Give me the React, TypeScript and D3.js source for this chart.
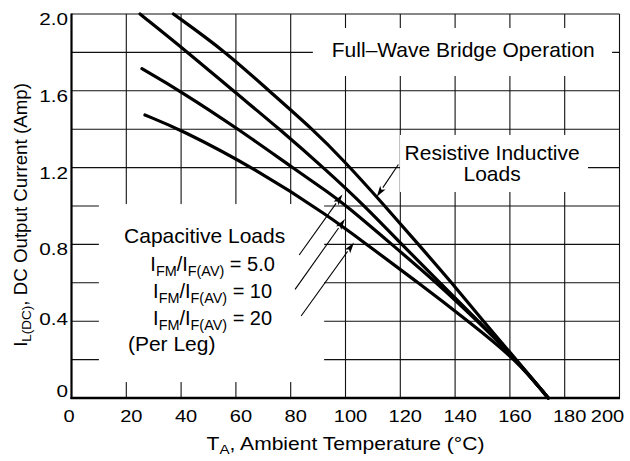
import { useEffect, useRef } from "react";
import * as d3 from "d3";

// chart values: [ambient temp °C, output current A]
const RESISTIVE_INDUCTIVE: [number, number][] = [
  [37.2, 2.0], [56.6, 1.8], [72, 1.6], [88, 1.4], [99.2, 1.24], [114.4, 1.0],
  [126.6, 0.8], [138.8, 0.6], [150.3, 0.4], [162.3, 0.2], [174, 0],
];
const CAP_5: [number, number][] = [
  [25, 2.0], [42.5, 1.8], [59, 1.6], [76, 1.4], [93.5, 1.18], [107, 1.0],
  [120.5, 0.8], [134.5, 0.6], [148.5, 0.4], [162.3, 0.2], [174, 0],
];
const CAP_10: [number, number][] = [
  [25.7, 1.715], [39.6, 1.6], [61, 1.4], [81.6, 1.19], [94.3, 1.066], [100.4, 1.0],
  [116.9, 0.8], [133.3, 0.6], [148.2, 0.4], [162.3, 0.2], [174, 0],
];
const CAP_20: [number, number][] = [
  [26.8, 1.474], [39.6, 1.4], [67.6, 1.19], [94.3, 0.944], [107.7, 0.8],
  [126.6, 0.6], [144.8, 0.4], [162.3, 0.2], [174, 0],
];
const SERIES = [RESISTIVE_INDUCTIVE, CAP_5, CAP_10, CAP_20];

const X_TICKS = [0, 20, 40, 60, 80, 100, 120, 140, 160, 180, 200];
const Y_TICKS = [0, 0.4, 0.8, 1.2, 1.6, 2.0];
const Y_GRID = [0, 0.2, 0.4, 0.6, 0.8, 1.0, 1.2, 1.4, 1.6, 1.8, 2.0];
const RATIOS = ["5.0", "10", "20"];

// leader arrows, [from, to] in data units
const ARROWS: [[number, number], [number, number]][] = [
  [[119.3, 1.216], [111.4, 1.048]],
  [[83.1, 0.745], [98.9, 1.06]],
  [[81.6, 0.566], [99.8, 0.932]],
  [[83.8, 0.427], [103.1, 0.81]],
];

// blank areas behind the annotation text, [x0, x1, y0, y1] in data units
const BLANKS = [
  [10.0, 92.2, 0.083, 1.01],
  [88.1, 197.3, 1.677, 1.927],
  [119.9, 188.5, 1.073, 1.37],
];

const FONT = "'Liberation Sans', Arial, Helvetica, sans-serif";

type Part = [string, boolean];

function addText(
  g: d3.Selection<SVGGElement, unknown, null, undefined>,
  x: number,
  y: number,
  parts: Part[],
  size: number,
  sx: number,
  anchor = "start",
  rotate = 0
) {
  const t = g
    .append("text")
    .attr("transform", `translate(${x},${y}) rotate(${rotate}) scale(${sx},1)`)
    .attr("font-family", FONT)
    .attr("font-size", size)
    .attr("text-anchor", anchor)
    .attr("fill", "#000");
  let inSub = false;
  const drop = size * 0.24;
  parts.forEach(([s, sub]) => {
    const span = t.append("tspan").text(s);
    if (sub && !inSub) span.attr("dy", drop);
    if (!sub && inSub) span.attr("dy", -drop);
    if (sub) span.attr("font-size", size * 0.72);
    inSub = sub;
  });
}

export default function App() {
  const ref = useRef<SVGSVGElement>(null);

  useEffect(() => {
    if (!ref.current) return;
    const svg = d3.select(ref.current);
    svg.selectAll("*").remove();
    const g = svg.append("g");

    const x = d3.scaleLinear().domain([0, 200]).range([71.5, 619.5]);
    const y = d3.scaleLinear().domain([0, 2]).range([398, 14]);

    // grid
    g.append("g")
      .selectAll("line")
      .data(X_TICKS.slice(1))
      .join("line")
      .attr("x1", (d) => x(d))
      .attr("x2", (d) => x(d))
      .attr("y1", y(0))
      .attr("y2", y(2))
      .attr("stroke", "#111")
      .attr("stroke-width", 1.1);
    g.append("g")
      .selectAll("line")
      .data(Y_GRID.slice(1))
      .join("line")
      .attr("x1", x(0))
      .attr("x2", x(200))
      .attr("y1", (d) => y(d))
      .attr("y2", (d) => y(d))
      .attr("stroke", "#111")
      .attr("stroke-width", 1.1);

    // white areas behind the labels
    g.append("g")
      .selectAll("rect")
      .data(BLANKS)
      .join("rect")
      .attr("x", (d) => x(d[0]))
      .attr("width", (d) => x(d[1]) - x(d[0]))
      .attr("y", (d) => y(d[3]))
      .attr("height", (d) => y(d[2]) - y(d[3]))
      .attr("fill", "#fff");

    // axes
    g.append("line")
      .attr("x1", x(0)).attr("x2", x(0))
      .attr("y1", y(2) - 0.5).attr("y2", y(0) + 1)
      .attr("stroke", "#000").attr("stroke-width", 2.2);
    g.append("line")
      .attr("x1", x(0) - 1).attr("x2", x(200) + 0.5)
      .attr("y1", y(0)).attr("y2", y(0))
      .attr("stroke", "#000").attr("stroke-width", 2.6);

    // curves
    const line = d3
      .line<[number, number]>()
      .x((d) => x(d[0]))
      .y((d) => y(d[1]))
      .curve(d3.curveBasis);
    g.append("g")
      .selectAll("path")
      .data(SERIES)
      .join("path")
      .attr("d", (d) => line(d))
      .attr("fill", "none")
      .attr("stroke", "#000")
      .attr("stroke-width", 3.2)
      .attr("stroke-linecap", "round");

    // arrows
    ARROWS.forEach(([from, to]) => {
      const x0 = x(from[0]), y0 = y(from[1]);
      const x1 = x(to[0]), y1 = y(to[1]);
      const len = Math.hypot(x1 - x0, y1 - y0);
      const ux = (x1 - x0) / len, uy = (y1 - y0) / len;
      const hl = 11, hw = 3.2;
      const bx = x1 - ux * hl, by = y1 - uy * hl;
      g.append("line")
        .attr("x1", x0).attr("y1", y0).attr("x2", bx).attr("y2", by)
        .attr("stroke", "#000").attr("stroke-width", 1.1);
      g.append("path")
        .attr(
          "d",
          `M${x1},${y1}L${bx - uy * hw},${by + ux * hw}L${bx + ux * 2.5},${by + uy * 2.5}L${bx + uy * hw},${by - ux * hw}Z`
        )
        .attr("fill", "#000");
    });

    // tick labels
    Y_TICKS.forEach((v) => {
      const dy = v === 0 ? -1 : v <= 0.4 ? 4 : 11;
      addText(g, 68, y(v) + dy, [[v === 0 ? "0" : v.toFixed(1), false]], 17, 1.22, "end");
    });
    X_TICKS.forEach((v) => {
      const dx = v === 0 ? -2.5 : v === 200 ? -12 : 5;
      addText(g, x(v) + dx, 421.5, [[String(v), false]], 17, 1.18, "middle");
    });

    // axis titles
    addText(
      g, 345.5, 450,
      [["T", false], ["A", true], [", Ambient Temperature (°C)", false]],
      18, 1.17, "middle"
    );
    addText(
      g, 27, 215,
      [["I", false], ["L(DC)", true], [", DC Output Current (Amp)", false]],
      18, 1.04, "middle", -90
    );

    // annotations
    addText(g, x(95.0), y(1.776), [["Full–Wave Bridge Operation", false]], 20, 1.05);
    addText(g, x(153.5), y(1.24), [["Resistive Inductive", false]], 20, 1.05, "middle");
    addText(g, x(153.5), y(1.13), [["Loads", false]], 20, 1.05, "middle");
    addText(g, x(19.2), y(0.807), [["Capacitive Loads", false]], 20, 1.05);
    RATIOS.forEach((r, i) => {
      addText(
        g, x(51.5), y(0.659 - i * 0.1395),
        [["I", false], ["FM", true], ["/I", false], ["F(AV)", true], [` = ${r}`, false]],
        20, 1.0, "middle"
      );
    });
    addText(g, x(20.6), y(0.245), [["(Per Leg)", false]], 20, 1.05);

    return () => {
      svg.selectAll("*").remove();
    };
  }, []);

  return (
    <svg
      ref={ref}
      width={630}
      height={461}
      style={{ position: "absolute", left: 0, top: 0, background: "#fff" }}
    />
  );
}
